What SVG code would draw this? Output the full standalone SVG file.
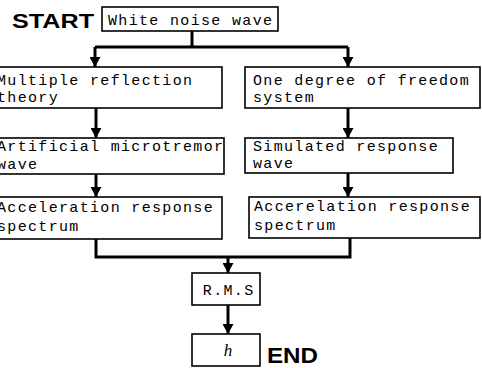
<svg xmlns="http://www.w3.org/2000/svg" width="482" height="368" viewBox="0 0 482 368">
<style>
.box{fill:#fff;stroke:#000;stroke-width:1.6}
.t{font-family:"Liberation Mono","Courier New",monospace;font-size:15px;letter-spacing:1.33px;fill:#000}
.lbl{font-family:"Liberation Sans",Arial,sans-serif;font-weight:bold;fill:#000}
.c{fill:none;stroke:#000;stroke-width:3}
</style>
<defs>
<marker id="ah" viewBox="0 0 10 11" markerUnits="userSpaceOnUse" markerWidth="10" markerHeight="11" refX="10" refY="5.5" orient="auto">
<path d="M0,0 L10,5.5 L0,11 z" fill="#000"/>
</marker>
</defs>
<rect width="482" height="368" fill="#fff"/>
<text class="lbl" x="12" y="28" font-size="21" textLength="82" lengthAdjust="spacingAndGlyphs">START</text>
<text class="lbl" x="267" y="363" font-size="22" textLength="51" lengthAdjust="spacingAndGlyphs">END</text>
<g id="connectors">
<path class="c" d="M192,31 V47 M95,47 H348"/>
<path class="c" d="M95,47 V67" marker-end="url(#ah)"/>
<path class="c" d="M348,47 V67" marker-end="url(#ah)"/>
<path class="c" d="M96,108 V138" marker-end="url(#ah)"/>
<path class="c" d="M348,108 V138" marker-end="url(#ah)"/>
<path class="c" d="M96,174 V197" marker-end="url(#ah)"/>
<path class="c" d="M348,173 V197" marker-end="url(#ah)"/>
<path class="c" d="M96,239 V257 H350 V238"/>
<path class="c" d="M228,257 V273" marker-end="url(#ah)"/>
<path class="c" d="M228,305 V334" marker-end="url(#ah)"/>
</g>
<g id="white-noise">
<rect class="box" x="102" y="7" width="176" height="24"/>
<text class="t" x="108" y="25">White noise wave</text>
</g>
<g id="multiple-reflection">
<rect class="box" x="-10" y="67" width="232" height="41"/>
<text class="t" x="-3" y="85">Multiple reflection</text>
<text class="t" x="-3" y="102">theory</text>
</g>
<g id="one-dof">
<rect class="box" x="245" y="67" width="235" height="41"/>
<text class="t" x="253" y="85">One degree of freedom</text>
<text class="t" x="253" y="102">system</text>
</g>
<g id="artificial">
<rect class="box" x="-10" y="138" width="234" height="36"/>
<text class="t" x="-3" y="151">Artificial microtremor</text>
<text class="t" x="-3" y="169">wave</text>
</g>
<g id="simulated">
<rect class="box" x="245" y="138" width="208" height="35"/>
<text class="t" x="253" y="151">Simulated response</text>
<text class="t" x="253" y="168">wave</text>
</g>
<g id="accel-left">
<rect class="box" x="-10" y="197" width="232" height="42"/>
<text class="t" x="-3" y="212">Acceleration response</text>
<text class="t" x="-3" y="231">spectrum</text>
</g>
<g id="accel-right">
<rect class="box" x="249" y="197" width="231" height="41"/>
<text class="t" x="254" y="211">Accerelation response</text>
<text class="t" x="254" y="230">spectrum</text>
</g>
<g id="rms">
<rect class="box" x="192" y="273" width="68" height="32"/>
<text class="t" x="228.7" y="295" text-anchor="middle">R.M.S</text>
</g>
<g id="h">
<rect class="box" x="192" y="334" width="68" height="32"/>
<text x="228" y="356" text-anchor="middle" font-family="Liberation Serif,'Times New Roman',serif" font-style="italic" font-size="17">h</text>
</g>
</svg>
